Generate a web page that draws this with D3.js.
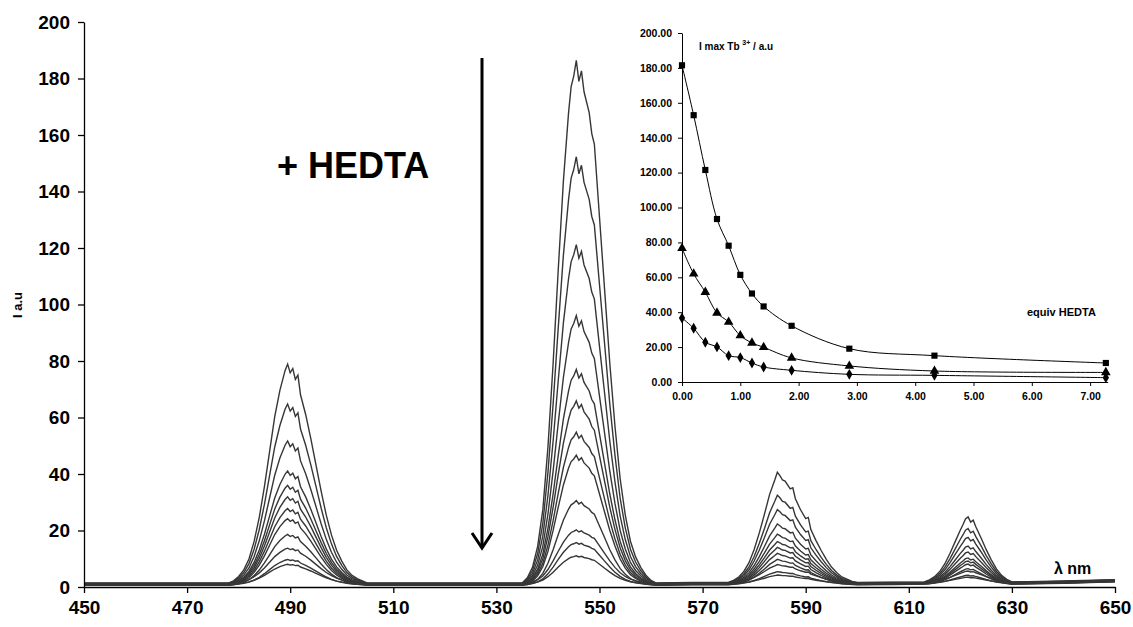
<!DOCTYPE html>
<html>
<head>
<meta charset="utf-8">
<script src="https://cdn.jsdelivr.net/npm/d3@7"></script>
<style>
  body { margin: 0; background: #fff; }
  svg { font-family: "Liberation Sans", Arial, sans-serif; }
  .axis text { font-weight: bold; fill: #000; }
  .axis path, .axis line { stroke: #000; }
</style>
</head>
<body>
<script>
var width = 1133;
var height = 627;

// emission spectra: 12 curves, band shapes, peak heights per curve
var band490nm = [478, 479, 480, 481, 482, 483, 484, 485, 486, 487, 488, 489, 489.5, 490, 490.5, 491, 491.5, 492, 493, 494, 495, 496, 497, 498, 499, 500, 501, 502, 503, 504, 505];
var band490shape = [0, 0.01, 0.03, 0.06, 0.11, 0.19, 0.30, 0.44, 0.60, 0.76, 0.88, 0.97, 1.0, 0.96, 0.98, 0.93, 0.95, 0.86, 0.77, 0.66, 0.54, 0.42, 0.31, 0.22, 0.15, 0.10, 0.06, 0.035, 0.02, 0.01, 0];
var band545nm = [535, 536, 537, 538, 539, 540, 541, 542, 543, 544, 544.5, 545, 545.5, 546, 546.5, 547, 548, 548.5, 549, 550, 551, 552, 553, 554, 555, 556, 557, 558, 559, 560, 561];
var band545shape = [0, 0.01, 0.03, 0.07, 0.14, 0.26, 0.42, 0.60, 0.77, 0.90, 0.95, 0.97, 1.0, 0.96, 0.98, 0.94, 0.90, 0.86, 0.84, 0.70, 0.56, 0.42, 0.30, 0.20, 0.13, 0.08, 0.05, 0.03, 0.015, 0.005, 0];
var band585nm = [575, 576, 577, 578, 579, 580, 581, 582, 583, 584, 584.5, 585, 585.5, 586, 587, 587.5, 588, 589, 590, 590.5, 591, 592, 593, 594, 595, 596, 597, 598, 599, 600];
var band585shape = [0, 0.02, 0.05, 0.10, 0.18, 0.30, 0.45, 0.62, 0.80, 0.93, 1.0, 0.97, 0.93, 0.92, 0.85, 0.86, 0.76, 0.66, 0.58, 0.59, 0.48, 0.38, 0.29, 0.21, 0.14, 0.09, 0.05, 0.03, 0.01, 0];
var band620nm = [613, 614, 615, 616, 617, 618, 619, 620, 620.5, 621, 621.5, 622, 622.5, 623, 624, 625, 626, 627, 628, 629, 630];
var band620shape = [0, 0.03, 0.08, 0.16, 0.28, 0.44, 0.62, 0.80, 0.88, 0.97, 1.0, 0.92, 0.95, 0.85, 0.68, 0.50, 0.34, 0.20, 0.10, 0.04, 0];

var peak490 = [77.5, 63.5, 50.5, 40, 35, 31, 27, 23.5, 18, 12.5, 9, 7];
var peak545 = [185, 151, 120, 95, 76, 65, 54, 46, 30, 19, 15, 10];
var peak585 = [39, 31, 26, 21, 17.5, 15, 13, 11, 9, 6.5, 4.5, 3];
var peak620 = [23, 19, 16, 13, 11, 9, 8, 7, 5.5, 4, 3, 2];

var baselineNm = [450, 520, 568, 607, 640, 650];
var baselineI = [1.0, 1.0, 1.2, 1.3, 1.7, 2.2];
var bandBase = [1.0, 1.0, 1.2, 1.4];
var curveShift = [0.4, 0.3, 0.2, 0.1, 0, -0.1, -0.2, -0.3, -0.4, 0.25, -0.25, 0.05];

var xTicks = [450, 470, 490, 510, 530, 550, 570, 590, 610, 630, 650];
var yTicks = [0, 20, 40, 60, 80, 100, 120, 140, 160, 180, 200];

// inset: I max vs equiv HEDTA
var equiv = [0, 0.2, 0.4, 0.6, 0.8, 1.0, 1.2, 1.4, 1.88, 2.87, 4.33, 7.27];
var imax545 = [181.5, 152.9, 121.5, 93.4, 78.1, 61.4, 50.7, 43.3, 32.2, 19.1, 15.1, 10.9];
var imax490 = [76.6, 62.0, 51.5, 39.6, 34.4, 26.6, 22.4, 19.9, 13.8, 9.2, 6.3, 5.5];
var imax585 = [36.7, 30.8, 22.8, 20.1, 15.1, 14.0, 10.9, 8.6, 6.7, 4.4, 3.8, 2.5];
var insetXTicks = [0, 1, 2, 3, 4, 5, 6, 7];
var insetYTicks = [0, 20, 40, 60, 80, 100, 120, 140, 160, 180, 200];

var svg = d3.select('body')
    .append('svg')
    .attr('width', width)
    .attr('height', height);

var xScale = d3.scaleLinear().domain([450, 650]).range([84, 1115]);
var yScale = d3.scaleLinear().domain([0, 200]).range([587, 22]);

var bands = [
    [band490nm, band490shape, peak490],
    [band545nm, band545shape, peak545],
    [band585nm, band585shape, peak585],
    [band620nm, band620shape, peak620]
];

var curves = peak545.map(function(p, c) {
    var pts = [];
    baselineNm.forEach(function(nm, i) {
        pts.push([nm, baselineI[i] + curveShift[c]]);
    });
    bands.forEach(function(b, k) {
        b[0].forEach(function(nm, i) {
            pts.push([nm, bandBase[k] + curveShift[c] + b[1][i] * b[2][c]]);
        });
    });
    pts.sort(function(a, b) { return a[0] - b[0]; });
    return pts;
});

var line = d3.line()
    .x(function(d) { return xScale(d[0]); })
    .y(function(d) { return yScale(d[1]); });

svg.append('g')
    .selectAll('path')
    .data(curves)
    .enter()
    .append('path')
    .attr('d', line)
    .attr('fill', 'none')
    .attr('stroke', '#363636')
    .attr('stroke-width', 1.4);

svg.append('g')
    .attr('class', 'axis')
    .attr('transform', 'translate(0,587)')
    .call(d3.axisBottom(xScale).tickValues(xTicks).tickSize(6).tickSizeOuter(0).tickPadding(8))
    .selectAll('text')
    .style('font-size', '19px');

svg.append('g')
    .attr('class', 'axis')
    .attr('transform', 'translate(84,0)')
    .call(d3.axisLeft(yScale).tickValues(yTicks).tickSize(6).tickSizeOuter(0).tickPadding(8))
    .selectAll('text')
    .style('font-size', '19px');

svg.selectAll('.axis path, .axis line').attr('stroke-width', 1.3);

svg.append('text')
    .attr('transform', 'translate(22,305) rotate(-90)')
    .attr('text-anchor', 'middle')
    .style('font-size', '13px')
    .style('font-weight', 'bold')
    .text('I a.u');

svg.append('text')
    .attr('x', 1054)
    .attr('y', 574)
    .style('font-size', '16px')
    .style('font-weight', 'bold')
    .text('λ nm');

svg.append('text')
    .attr('x', 277)
    .attr('y', 178)
    .style('font-size', '36px')
    .style('font-weight', 'bold')
    .text('+ HEDTA');

// arrow
svg.append('line')
    .attr('x1', 482).attr('y1', 58)
    .attr('x2', 482).attr('y2', 547)
    .attr('stroke', '#000')
    .attr('stroke-width', 3);
svg.append('path')
    .attr('d', 'M472,533 L482,548 L492,533')
    .attr('fill', 'none')
    .attr('stroke', '#000')
    .attr('stroke-width', 3);

// inset
var ix = d3.scaleLinear().domain([0, 7.3]).range([682, 1107.6]);
var iy = d3.scaleLinear().domain([0, 200]).range([382, 33]);

var inset = svg.append('g');

inset.append('g')
    .attr('class', 'axis')
    .attr('transform', 'translate(0,382)')
    .call(d3.axisBottom(ix).tickValues(insetXTicks).tickFormat(d3.format('.2f')).tickSize(4).tickSizeOuter(0).tickPadding(7))
    .selectAll('text')
    .style('font-size', '10.5px');

inset.append('g')
    .attr('class', 'axis')
    .attr('transform', 'translate(682,0)')
    .call(d3.axisLeft(iy).tickValues(insetYTicks).tickFormat(d3.format('.2f')).tickSize(4).tickSizeOuter(0).tickPadding(6))
    .selectAll('text')
    .style('font-size', '10.5px');

var iline = d3.line()
    .curve(d3.curveCatmullRom.alpha(0.5))
    .x(function(d) { return ix(d[0]); })
    .y(function(d) { return iy(d[1]); });

var insetSeries = [
    { values: imax545, symbol: d3.symbolSquare, size: 38 },
    { values: imax490, symbol: d3.symbolTriangle, size: 40 },
    { values: imax585, symbol: d3.symbolDiamond, size: 34 }
];

insetSeries.forEach(function(s) {
    var pts = equiv.map(function(e, i) { return [e, s.values[i]]; });
    inset.append('path')
        .attr('d', iline(pts))
        .attr('fill', 'none')
        .attr('stroke', '#000')
        .attr('stroke-width', 1);
    inset.append('g')
        .selectAll('path')
        .data(pts)
        .enter()
        .append('path')
        .attr('d', d3.symbol().type(s.symbol).size(s.size))
        .attr('transform', function(d) {
            return 'translate(' + ix(d[0]) + ',' + iy(d[1]) + ')';
        })
        .attr('fill', '#000');
});

var ttl = inset.append('text')
    .attr('x', 699)
    .attr('y', 50)
    .style('font-size', '10px')
    .style('font-weight', 'bold');
ttl.append('tspan').text('I max Tb ');
ttl.append('tspan').attr('dy', -5).style('font-size', '7px').text('3+');
ttl.append('tspan').attr('dy', 5).text(' / a.u');

inset.append('text')
    .attr('x', 1027)
    .attr('y', 316)
    .style('font-size', '11px')
    .style('font-weight', 'bold')
    .text('equiv HEDTA');
</script>
</body>
</html>
